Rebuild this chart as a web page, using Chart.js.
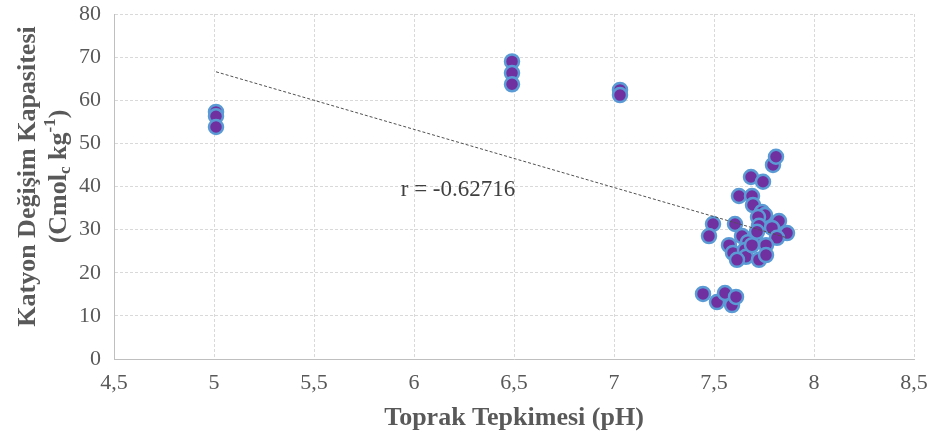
<!DOCTYPE html>
<html>
<head>
<meta charset="utf-8">
<script src="https://cdn.jsdelivr.net/npm/chart.js@4"></script>
<style>
html, body { margin: 0; padding: 0; background: #fff; }
#wrap { width: 930px; height: 441px; }
</style>
</head>
<body>
<div id="wrap"><canvas id="grafik_kdk" width="930" height="441"></canvas></div>
<script>
// pH (x) ve KDK (y) degerleri
const phValues = [5.01, 5.01, 5.01, 6.49, 6.49, 6.49, 7.03, 7.03,
  7.445, 7.515, 7.555, 7.59, 7.61,
  7.795, 7.81, 7.685, 7.745, 7.625, 7.69, 7.695, 7.74, 7.755, 7.72, 7.825,
  7.495, 7.475, 7.605, 7.725, 7.79, 7.865, 7.64, 7.705, 7.815, 7.76, 7.575,
  7.67, 7.595, 7.655, 7.66, 7.615, 7.725, 7.76, 7.69, 7.715];
const cecValues = [57.3, 56.3, 53.8, 69.0, 66.3, 63.7, 62.4, 61.2,
  15.1, 13.2, 15.3, 12.5, 14.4,
  45.0, 46.9, 42.2, 41.1, 37.8, 37.8, 35.7, 34.1, 33.4, 32.9, 32.0,
  31.3, 28.5, 31.3, 30.9, 30.4, 29.2, 28.5, 28.5, 28.1, 26.4, 26.4,
  27.1, 24.6, 25.3, 23.7, 23.0, 23.0, 24.1, 26.4, 29.5];
// dogrusal egilim cizgisi uclari
const trendPh = [5.01, 7.865];
const trendCec = [66.6, 28.1];
const rLabel = 'r = -0.62716';
const xTicks = [4.5, 5, 5.5, 6, 6.5, 7, 7.5, 8, 8.5];

const yazi = 'Liberation Serif';
const gri = '#595959';

const baslikPlugin = {
  id: 'basliklar',
  afterDraw(chart) {
    const ctx = chart.ctx;
    const a = chart.chartArea;
    ctx.save();
    ctx.fillStyle = gri;
    // x ekseni basligi
    ctx.font = 'bold 26px ' + yazi;
    ctx.textAlign = 'center';
    ctx.textBaseline = 'middle';
    ctx.fillText('Toprak Tepkimesi (pH)', (a.left + a.right) / 2, 418);
    // y ekseni basligi (iki satir)
    const cy = (a.top + a.bottom) / 2 - 10;
    ctx.translate(28, cy);
    ctx.rotate(-Math.PI / 2);
    ctx.fillText('Katyon Değişim Kapasitesi', 0, 0);
    ctx.translate(0, 31);
    const p1 = '(Cmol', p2 = 'c', p3 = ' kg', p4 = '-1', p5 = ')';
    const big = 'bold 26px ' + yazi, small = 'bold 17px ' + yazi;
    ctx.font = big; const w1 = ctx.measureText(p1).width, w3 = ctx.measureText(p3).width, w5 = ctx.measureText(p5).width;
    ctx.font = small; const w2 = ctx.measureText(p2).width, w4 = ctx.measureText(p4).width;
    let x = -(w1 + w2 + w3 + w4 + w5) / 2;
    ctx.textAlign = 'left';
    ctx.font = big; ctx.fillText(p1, x, 0); x += w1;
    ctx.font = small; ctx.fillText(p2, x, 7); x += w2;
    ctx.font = big; ctx.fillText(p3, x, 0); x += w3;
    ctx.font = small; ctx.fillText(p4, x, -8); x += w4;
    ctx.font = big; ctx.fillText(p5, x, 0);
    ctx.restore();
    // r degeri
    const xs = chart.scales.x, ys = chart.scales.y;
    ctx.save();
    ctx.font = '23px ' + yazi;
    ctx.fillStyle = '#404040';
    ctx.textAlign = 'center';
    ctx.textBaseline = 'middle';
    ctx.fillText(rLabel, xs.getPixelForValue(6.22), ys.getPixelForValue(39.2));
    ctx.restore();
  }
};

const kdk = document.getElementById('grafik_kdk').getContext('2d');
const graf_kdk = new Chart(kdk, {
  type: 'scatter',
  data: {
    datasets: [{
      label: 'KDK',
      data: phValues.map((v, i) => ({ x: v, y: cecValues[i] })),
      backgroundColor: '#7030A0',
      borderColor: '#5B9BD5',
      borderWidth: 2.5,
      pointRadius: 7,
      order: 2
    }, {
      label: 'Eğilim',
      type: 'line',
      data: trendPh.map((v, i) => ({ x: v, y: trendCec[i] })),
      borderColor: '#505050',
      borderWidth: 1,
      borderDash: [3, 2],
      pointRadius: 0,
      fill: false,
      order: 1
    }]
  },
  options: {
    responsive: false,
    animation: false,
    layout: { padding: { top: 14, right: 16, left: 0, bottom: 0 } },
    plugins: { legend: { display: false }, tooltip: { enabled: false } },
    scales: {
      x: {
        type: 'linear',
        min: 4.5, max: 8.5,
        afterBuildTicks: s => { s.ticks = xTicks.map(v => ({ value: v })); },
        afterFit: s => { s.height = 82; s.paddingLeft = 0; s.paddingRight = 0; },
        grid: { color: '#D9D9D9', drawTicks: false },
        border: { display: true, color: '#BFBFBF', width: 1, dash: [3, 2] },
        ticks: {
          padding: 11,
          color: gri,
          font: { family: yazi, size: 22 },
          callback: v => String(v).replace('.', ',')
        }
      },
      y: {
        min: 0, max: 80,
        ticks: {
          stepSize: 10,
          padding: 13,
          color: gri,
          font: { family: yazi, size: 22 }
        },
        afterFit: s => { s.width = 114; s.paddingTop = 0; s.paddingBottom = 0; },
        grid: { color: '#D9D9D9', drawTicks: false },
        border: { display: true, color: '#BFBFBF', width: 1, dash: [3, 2] }
      }
    }
  },
  plugins: [baslikPlugin]
});
</script>
</body>
</html>
